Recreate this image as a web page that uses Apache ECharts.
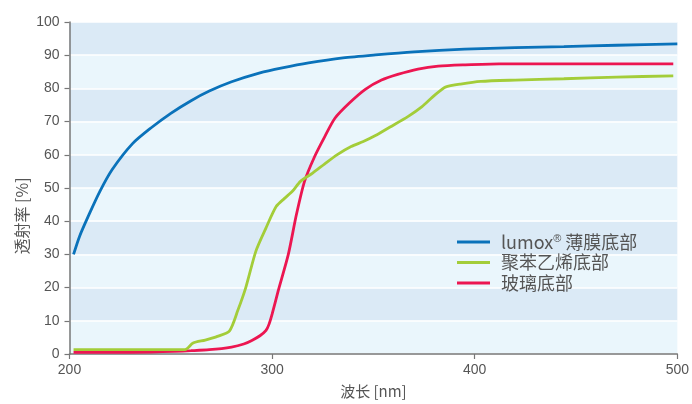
<!DOCTYPE html>
<html>
<head>
<meta charset="utf-8">
<script src="https://cdn.jsdelivr.net/npm/echarts@6/dist/echarts.min.js"></script>
<style>html,body{margin:0;padding:0;background:#fff;}#c{width:692px;height:404px;}</style>
</head>
<body>
<div id="c"></div>
<script>
var seriesNames = ['lumox® 薄膜底部', '聚苯乙烯底部', '玻璃底部'];
var lumoxX = [202, 205, 210, 215, 221, 231, 240, 250, 260, 269, 280, 294, 305, 318, 335, 351, 370, 395, 420, 444, 470, 500];
var lumoxY = [30, 35.5, 42.5, 49, 55.5, 63.3, 68, 72.5, 76.3, 79.2, 82, 84.7, 86.2, 87.7, 89.2, 90.1, 91, 91.8, 92.3, 92.6, 93, 93.4];
var psX = [202, 220, 240, 257, 261, 267, 273, 279, 283, 287, 292, 297, 302, 306, 310, 314, 320, 326, 332, 339, 345, 351, 358, 367, 374, 379, 383, 385.5, 393, 403, 420, 444, 470, 498];
var psY = [1.3, 1.3, 1.3, 1.3, 3.3, 4.2, 5.3, 7, 13, 20, 31, 38, 44.4, 46.8, 49, 52, 54.5, 57.3, 60, 62.5, 64, 65.8, 68.3, 71.5, 74.5, 77.3, 79.3, 80.4, 81.3, 82.1, 82.5, 82.9, 83.4, 83.8];
var glassX = [202, 220, 240, 252, 260, 269, 280, 286, 290, 294, 297, 298.5, 300, 303, 308, 312, 316, 321, 326, 331, 338, 346, 354, 362, 372, 382, 395, 412, 450, 498];
var glassY = [0.5, 0.5, 0.6, 0.8, 1.0, 1.3, 2.1, 3, 4.1, 5.5, 7.1, 9, 12, 19, 30, 42, 52, 59.5, 65.5, 71, 75.5, 79.7, 82.5, 84.2, 85.8, 86.7, 87.1, 87.4, 87.4, 87.4];
var colors = ['#0a72ba', '#a3cd39', '#ec1651'];

function pairs(xs, ys) { return xs.map(function (x, i) { return [x, ys[i]]; }); }
var datasets = [pairs(lumoxX, lumoxY), pairs(psX, psY), pairs(glassX, glassY)];

var chart = echarts.init(document.getElementById('c'));
var axisColor = '#777';
var labelColor = '#555';
chart.setOption({
  animation: false,
  grid: { left: 69.5, right: 12, top: 22, bottom: 47, containLabel: false },
  xAxis: {
    type: 'value', min: 200, max: 500, interval: 100,
    name: '波长 [nm]', nameLocation: 'middle', nameGap: 30,
    nameTextStyle: { color: labelColor, fontSize: 15, fontFamily: 'Noto Sans CJK SC' },
    axisLine: { lineStyle: { color: axisColor, width: 1.5 } },
    axisTick: { show: true, length: 5, lineStyle: { color: axisColor, width: 1.2 } },
    axisLabel: { color: labelColor, fontSize: 14, margin: 9, fontFamily: 'Liberation Sans' },
    splitLine: { show: false }
  },
  yAxis: {
    type: 'value', min: 0, max: 100, interval: 10,
    axisLine: { show: true, lineStyle: { color: axisColor, width: 1.5 } },
    axisTick: { show: true, length: 5, lineStyle: { color: axisColor, width: 1.2 } },
    axisLabel: { color: labelColor, fontSize: 14, margin: 10, fontFamily: 'Liberation Sans' },
    splitLine: { show: true, lineStyle: { color: '#ffffff', width: 1.5 } },
    splitArea: { show: true, areaStyle: { color: ['#eaf6fc', '#dbeaf6'] } }
  },
  legend: {
    orient: 'vertical', left: 457, top: 233, padding: 0,
    icon: 'rect', itemWidth: 33, itemHeight: 3, itemGap: 2.5,
    textStyle: { color: '#555', fontSize: 18, lineHeight: 18, fontFamily: 'Noto Sans CJK SC', padding: [0, 0, 0, 6],
      rich: { s: { fontSize: 11, verticalAlign: 'top', lineHeight: 11, color: '#555', fontFamily: 'Liberation Sans' } } },
    formatter: function (name) { return name.replace('®', '{s|®}'); },
    data: seriesNames
  },
  graphic: [{
    type: 'text', x: 22, y: 216, rotation: Math.PI / 2,
    style: { text: '透射率 [%]', fill: labelColor, fontSize: 16, fontFamily: 'Noto Sans CJK SC', align: 'center', verticalAlign: 'middle' }
  }],
  series: seriesNames.map(function (n, i) {
    return {
      name: n, type: 'line', data: datasets[i], showSymbol: false, symbol: 'none',
      smooth: 0.25,
      lineStyle: { color: colors[i], width: 2.8 },
      itemStyle: { color: colors[i] },
      z: 3 - i
    };
  })
});
</script>
</body>
</html>
